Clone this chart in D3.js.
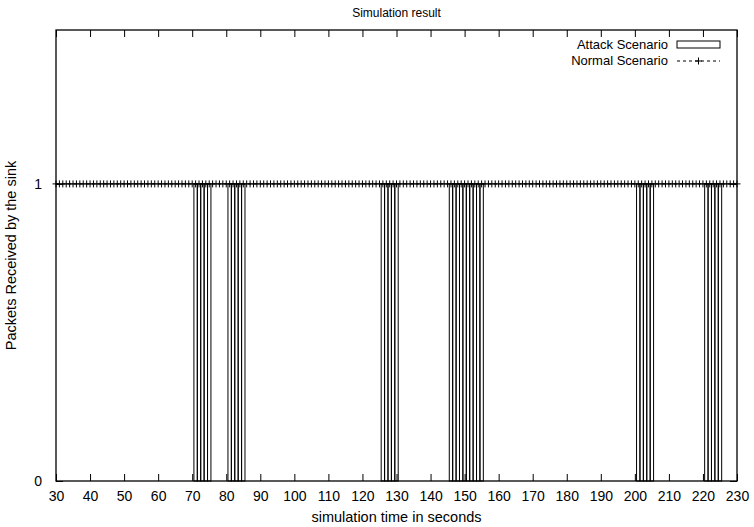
<!DOCTYPE html>
<html>
<head>
<meta charset="utf-8">
<script src="https://cdn.jsdelivr.net/npm/d3@7"></script>
<style>
  body { margin: 0; background: #fff; }
  text { font-family: "Liberation Sans", Arial, sans-serif; font-size: 13px; fill: #000; }
</style>
</head>
<body>
<div id="chart"></div>
<script>
const width = 754, height = 527;
const margin = ({top: 30, right: 17, bottom: 46, left: 56});

// packets received by the sink, attack scenario (one box per second)
const attackTimes = [71, 72, 73, 74, 75, 81, 82, 83, 84, 85,
  126, 127, 128, 129, 130, 146, 147, 148, 149, 150, 151, 152, 153, 154, 155,
  201, 202, 203, 204, 205, 221, 222, 223, 224, 225];
const attackValues = [1, 1, 1, 1, 1, 1, 1, 1, 1, 1,
  1, 1, 1, 1, 1, 1, 1, 1, 1, 1, 1, 1, 1, 1, 1,
  1, 1, 1, 1, 1, 1, 1, 1, 1, 1];

// normal scenario: one packet every second
const normalTimes = [
  30, 31, 32, 33, 34, 35, 36, 37, 38, 39, 40, 41, 42, 43, 44, 45, 46, 47, 48, 49,
  50, 51, 52, 53, 54, 55, 56, 57, 58, 59, 60, 61, 62, 63, 64, 65, 66, 67, 68, 69,
  70, 71, 72, 73, 74, 75, 76, 77, 78, 79, 80, 81, 82, 83, 84, 85, 86, 87, 88, 89,
  90, 91, 92, 93, 94, 95, 96, 97, 98, 99, 100, 101, 102, 103, 104, 105, 106, 107, 108, 109,
  110, 111, 112, 113, 114, 115, 116, 117, 118, 119, 120, 121, 122, 123, 124, 125, 126, 127, 128, 129,
  130, 131, 132, 133, 134, 135, 136, 137, 138, 139, 140, 141, 142, 143, 144, 145, 146, 147, 148, 149,
  150, 151, 152, 153, 154, 155, 156, 157, 158, 159, 160, 161, 162, 163, 164, 165, 166, 167, 168, 169,
  170, 171, 172, 173, 174, 175, 176, 177, 178, 179, 180, 181, 182, 183, 184, 185, 186, 187, 188, 189,
  190, 191, 192, 193, 194, 195, 196, 197, 198, 199, 200, 201, 202, 203, 204, 205, 206, 207, 208, 209,
  210, 211, 212, 213, 214, 215, 216, 217, 218, 219, 220, 221, 222, 223, 224, 225, 226, 227, 228, 229,
  230];
const normalValue = 1;

const xTicks = [30, 40, 50, 60, 70, 80, 90, 100, 110, 120, 130, 140, 150, 160, 170, 180, 190, 200, 210, 220, 230];
const yTicks = [0, 1];
const boxWidth = 1;

const x = d3.scaleLinear()
    .domain([30, 230])
    .range([margin.left, width - margin.right]);

const y = d3.scaleLinear()
    .domain([0, 1.518])
    .range([height - margin.bottom, margin.top]);

const svg = d3.select("#chart").append("svg")
    .attr("width", width).attr("height", height);

const plotW = width - margin.left - margin.right;
const plotH = height - margin.top - margin.bottom;
const tickLen = 7;

// attack boxes (outline only)
svg.append("g").selectAll("rect")
  .data(attackTimes.map((t, i) => [t, attackValues[i]]))
  .join("rect")
    .attr("x", d => x(d[0] - boxWidth / 2))
    .attr("y", d => y(d[1]))
    .attr("width", d => x(d[0] + boxWidth / 2) - x(d[0] - boxWidth / 2))
    .attr("height", d => y(0) - y(d[1]))
    .attr("fill", "none")
    .attr("stroke", "#000")
    .attr("stroke-width", 1);

// normal scenario dashed line with + points
const normalLine = d3.line()
    .x(d => x(d))
    .y(() => y(normalValue));

svg.append("path")
    .datum(normalTimes)
    .attr("d", normalLine)
    .attr("fill", "none")
    .attr("stroke", "#000")
    .attr("stroke-dasharray", "3,3");

const plus = (cx, cy, r) => `M${cx - r},${cy}H${cx + r}M${cx},${cy - r}V${cy + r}`;

svg.append("path")
    .attr("d", normalTimes.map(t => plus(x(t), y(normalValue), 3.5)).join(""))
    .attr("fill", "none")
    .attr("stroke", "#000")
    .attr("stroke-width", 1);

// border
svg.append("rect")
    .attr("x", margin.left).attr("y", margin.top)
    .attr("width", plotW).attr("height", plotH)
    .attr("fill", "none").attr("stroke", "#000").attr("stroke-width", 1.3);

// axes, ticks drawn inward and mirrored like gnuplot
const xAxis = d3.axisBottom(x).tickValues(xTicks).tickSize(-tickLen).tickPadding(10).tickSizeOuter(0);
const xAxisTop = d3.axisTop(x).tickValues(xTicks).tickSize(-tickLen).tickFormat("").tickSizeOuter(0);
const yAxis = d3.axisLeft(y).tickValues(yTicks).tickSize(-tickLen).tickFormat(d3.format("d")).tickPadding(14).tickSizeOuter(0);
const yAxisRight = d3.axisRight(y).tickValues(yTicks).tickSize(-tickLen).tickFormat("").tickSizeOuter(0);

svg.append("g").attr("transform", `translate(0,${height - margin.bottom})`).call(xAxis);
svg.append("g").attr("transform", `translate(0,${margin.top})`).call(xAxisTop);
svg.append("g").attr("transform", `translate(${margin.left},0)`).call(yAxis);
svg.append("g").attr("transform", `translate(${width - margin.right},0)`).call(yAxisRight);

svg.selectAll(".domain").remove();
svg.selectAll(".tick line").attr("stroke", "#000");
svg.selectAll(".tick text").style("font-size", "14px").attr("font-family", null);

// title and axis labels
svg.append("text")
    .attr("x", (margin.left + width - margin.right) / 2)
    .attr("y", 17)
    .attr("text-anchor", "middle")
    .style("font-size", "12px")
    .text("Simulation result");

svg.append("text")
    .attr("x", (margin.left + width - margin.right) / 2)
    .attr("y", height - 5)
    .attr("text-anchor", "middle")
    .style("font-size", "14.5px")
    .text("simulation time in seconds");

svg.append("text")
    .attr("transform", `translate(16,${(margin.top + height - margin.bottom) / 2}) rotate(-90)`)
    .attr("text-anchor", "middle")
    .style("font-size", "14.5px")
    .text("Packets Received by the sink");

// key
const key = svg.append("g");
key.append("text").attr("x", 668).attr("y", 49).attr("text-anchor", "end").text("Attack Scenario");
key.append("rect").attr("x", 677).attr("y", 41).attr("width", 43).attr("height", 7)
    .attr("fill", "none").attr("stroke", "#000");
key.append("text").attr("x", 668).attr("y", 65).attr("text-anchor", "end").text("Normal Scenario");
key.append("line").attr("x1", 677).attr("x2", 720).attr("y1", 61).attr("y2", 61)
    .attr("stroke", "#000").attr("stroke-dasharray", "3,3");
key.append("path").attr("d", plus(698.5, 61, 3.5)).attr("stroke", "#000");
</script>
</body>
</html>
